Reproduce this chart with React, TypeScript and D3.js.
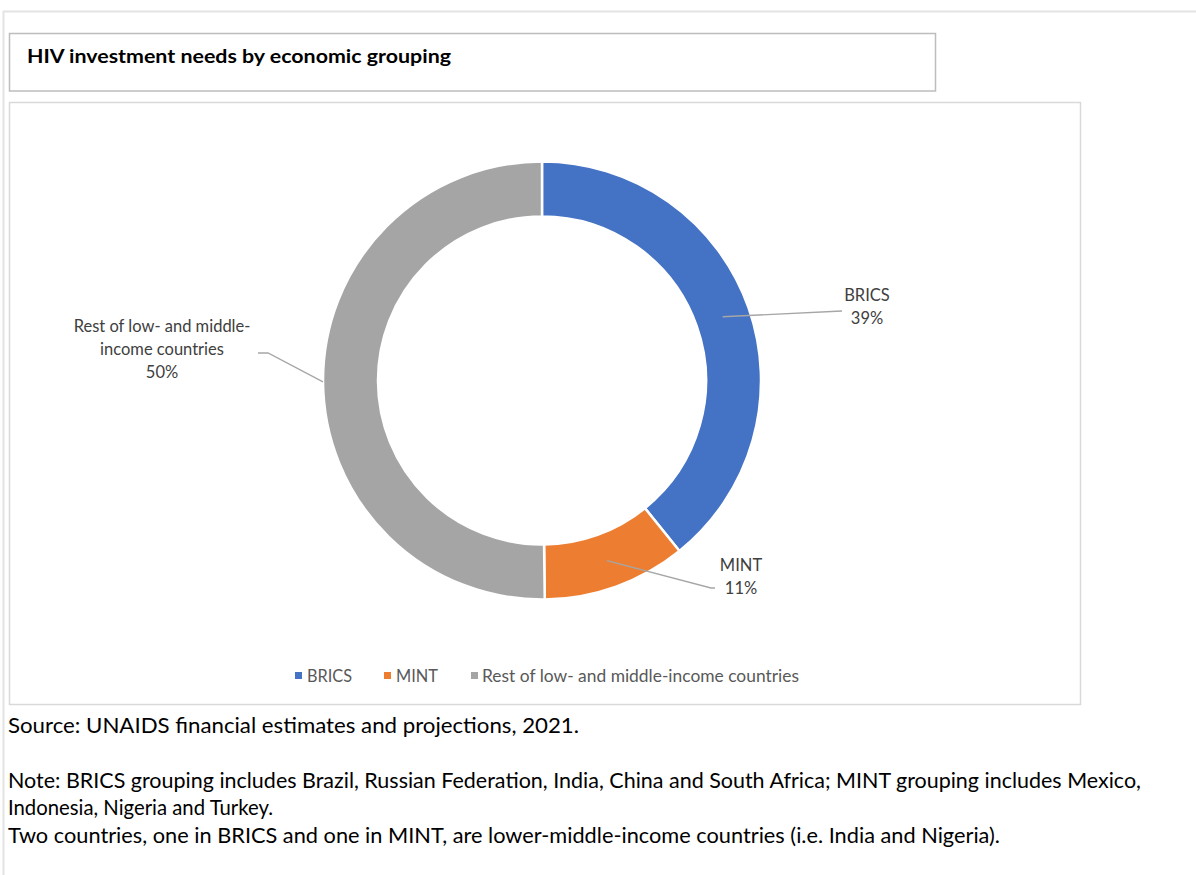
import React from "react";
import * as d3 from "d3";

const categories = ["BRICS", "MINT", "Rest of low- and middle-income countries"];
const shares = [39.2, 10.6, 50.2];
const percentLabels = ["39%", "11%", "50%"];
const labelLines = [["BRICS"], ["MINT"], ["Rest of low- and middle-", "income countries"]];
const colors = ["#4472C4", "#ED7D31", "#A5A5A5"];

const titleText = "HIV investment needs by economic grouping";
const footerLines = [
  { text: "Source: UNAIDS financial estimates and projections, 2021.", y: 733, w: 571 },
  { text: "Note: BRICS grouping includes Brazil, Russian Federation, India, China and South Africa; MINT grouping includes Mexico,", y: 788, w: 1133 },
  { text: "Indonesia, Nigeria and Turkey.", y: 815, w: 265 },
  { text: "Two countries, one in BRICS and one in MINT, are lower-middle-income countries (i.e. India and Nigeria).", y: 843, w: 992 },
];

const FONT = "Lato, 'Open Sans', 'Liberation Sans', sans-serif";

export default function App() {
  const W = 1196, H = 875;
  const cx = 542, cy = 380.5;
  const rOuter = 219, rInner = 164;
  const pie = d3.pie<number>().sort(null).value((d) => d);
  const arcs = pie(shares);
  const arcGen = d3.arc<d3.PieArcDatum<number>>().innerRadius(rInner).outerRadius(rOuter);
  const midR = (rInner + rOuter) / 2;

  const pt = (a: number, r: number) => [cx + r * Math.sin(a), cy - r * Math.cos(a)];

  // label placements (layout)
  const labelLayout = [
    { x: 867, y0: 301, anchorR: midR, elbow: [842, 311], elbow2: null as null | number[] },
    { x: 741, y0: 571, anchorR: midR, elbow: [711, 588], elbow2: [715, 588] },
    { x: 162, y0: 332, anchorR: rOuter, elbow: [268, 353], elbow2: [258, 353] },
  ];
  const lh = 23;

  const legendItems = [
    { sx: 295, tx: 307 },
    { sx: 384, tx: 396 },
    { sx: 471, tx: 482 },
  ];
  const legendWidths = [45, 42, 317];

  return (
    <svg
      width={W}
      height={H}
      style={{ position: "absolute", left: 0, top: 0, background: "#fff" }}
      fontFamily={FONT}
    >
      <rect x={0} y={0} width={W} height={H} fill="#fff" />
      {/* outer frame */}
      <line x1={3} y1={11.5} x2={W} y2={11.5} stroke="#e3e3e3" strokeWidth={2} />
      <line x1={3.5} y1={11} x2={3.5} y2={H} stroke="#e3e3e3" strokeWidth={2} />
      {/* title box */}
      <rect x={9.5} y={33.5} width={926} height={57.5} fill="#fff" stroke="#bdbdbd" strokeWidth={1.5} />
      <text x={27} y={63} fontSize={19.5} fontWeight={700} fill="#000" textLength={424} lengthAdjust="spacingAndGlyphs">
        {titleText}
      </text>
      {/* chart box */}
      <rect x={9.5} y={102.5} width={1071} height={602} fill="#fff" stroke="#d9d9d9" strokeWidth={1.5} />

      {/* donut */}
      <g transform={`translate(${cx},${cy})`}>
        {arcs.map((a, i) => (
          <path key={i} d={arcGen(a) || ""} fill={colors[i]} stroke="#fff" strokeWidth={2.5} />
        ))}
      </g>

      {/* leader lines and labels */}
      {arcs.map((a, i) => {
        const mid = (a.startAngle + a.endAngle) / 2;
        const L = labelLayout[i];
        const p = pt(mid, L.anchorR);
        const pts = [p, L.elbow];
        if (L.elbow2) pts.push(L.elbow2);
        const path = d3.line()(pts as [number, number][]) || "";
        return (
          <g key={"lab" + i}>
            <path d={path} fill="none" stroke="#a6a6a6" strokeWidth={1.3} />
            {labelLines[i].map((t, j) => (
              <text key={j} x={L.x} y={L.y0 + j * lh} textAnchor="middle" fontSize={16.5} fill="#404040">
                {t}
              </text>
            ))}
            <text x={L.x} y={L.y0 + labelLines[i].length * lh} textAnchor="middle" fontSize={16.5} fill="#404040">
              {percentLabels[i]}
            </text>
          </g>
        );
      })}

      {/* legend */}
      {categories.map((c, i) => (
        <g key={"leg" + i}>
          <rect x={legendItems[i].sx} y={672} width={7} height={7} fill={colors[i]} />
          <text x={legendItems[i].tx} y={682} fontSize={16.5} fill="#595959" textLength={legendWidths[i]} lengthAdjust="spacingAndGlyphs">
            {c}
          </text>
        </g>
      ))}

      {/* footer */}
      {footerLines.map((f, i) => (
        <text
          key={"f" + i}
          x={8}
          y={f.y}
          fontSize={20.5}
          fill="#000"
          textLength={f.w}
          lengthAdjust="spacingAndGlyphs"
        >
          {f.text}
        </text>
      ))}
    </svg>
  );
}
